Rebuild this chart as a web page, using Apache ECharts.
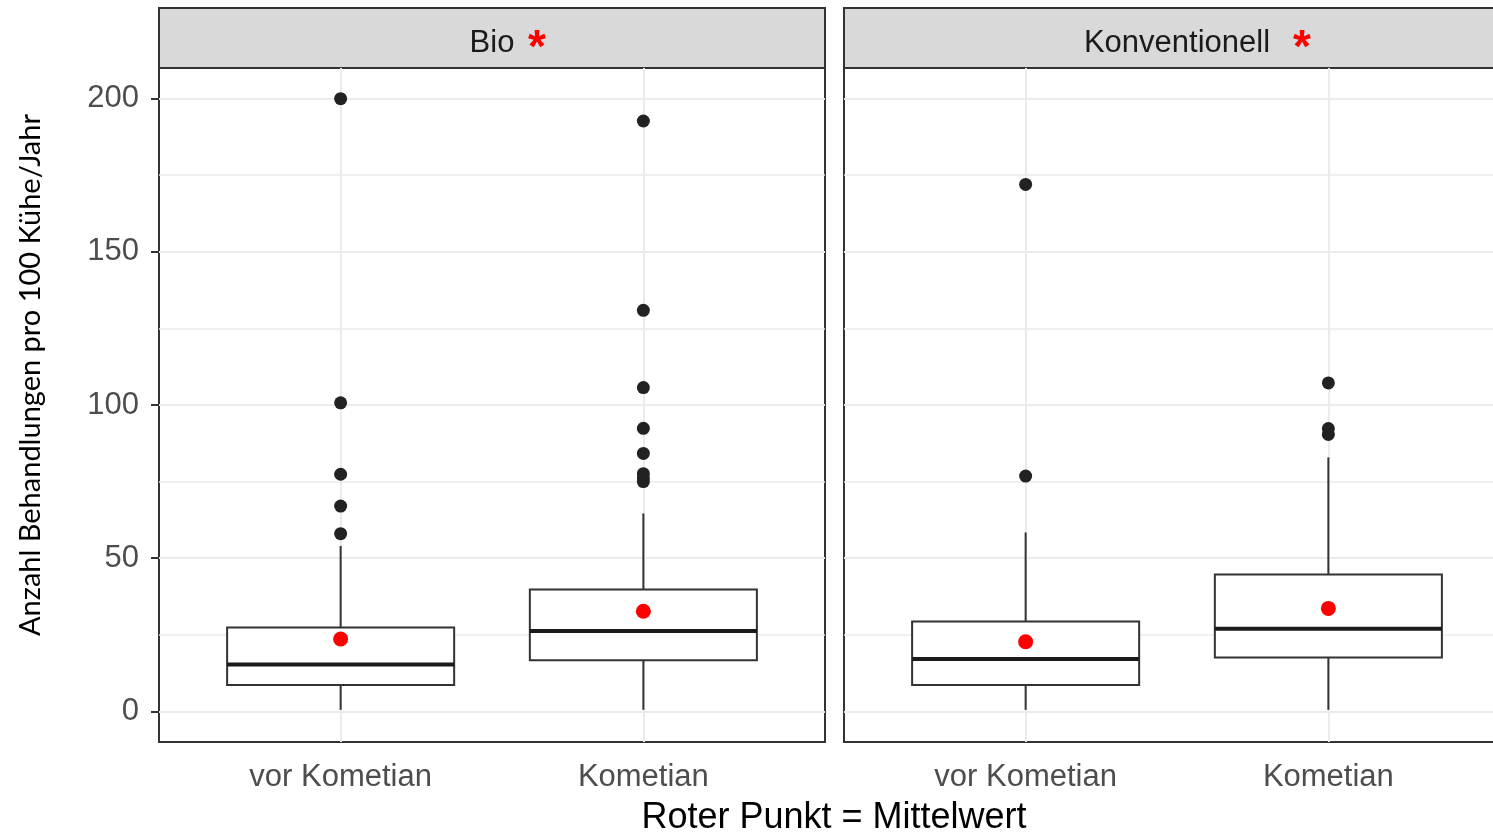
<html>
<head>
<meta charset="utf-8">
<title>Behandlungen</title>
<script src="https://cdn.jsdelivr.net/npm/echarts@6/dist/echarts.min.js"></script>
<style>
  html, body { margin: 0; padding: 0; background: #fff; overflow: hidden; }
</style>
</head>
<body>
<!-- etwas breiter als das fenster: rechtes panel ist im original abgeschnitten -->
<div id="main" style="width:1512px;height:834px;"></div>
<script>
// gruppen und panels
var groups = ['vor Kometian', 'Kometian'];
var panels = ['Bio', 'Konventionell'];

// boxplot werte: min, Q1, median, Q3, max (je gruppe)
var bioBox = [[0.5, 8.6, 15.3, 27.4, 54.0], [0.5, 16.7, 26.2, 39.8, 64.6]];
var konvBox = [[0.5, 8.6, 17.1, 29.3, 58.4], [0.5, 17.6, 27.0, 44.7, 82.9]];

// mittelwerte (roter punkt)
var bioMean = [23.6, 32.7];
var konvMean = [22.7, 33.6];

// ausreisser
var bioOutVor = [200, 100.7, 77.4, 67.0, 58.0];
var bioOutKom = [192.7, 130.9, 105.7, 92.4, 84.2, 77.6, 76.2, 75.0];
var konvOutVor = [172.0, 76.8];
var konvOutKom = [107.2, 92.3, 90.4];

// achsen
var yTicks = [0, 50, 100, 150, 200];
var yMinor = [25, 75, 125, 175];

var font = '"Liberation Sans", Arial, sans-serif';

function boxRows(box) {
  return box.map(function (b, i) { return [i + 1].concat(b); });
}
function pts(vals, x) {
  return vals.map(function (v) { return [x, v]; });
}
function meanPts(vals) {
  return vals.map(function (v, i) { return [i + 1, v]; });
}

function renderBox(params, api) {
  var x = api.value(0);
  var lo = api.coord([x, api.value(1)]);
  var q1 = api.coord([x, api.value(2)]);
  var md = api.coord([x, api.value(3)]);
  var q3 = api.coord([x, api.value(4)]);
  var hi = api.coord([x, api.value(5)]);
  var hw = api.size([0.75, 0])[0] / 2;
  var ls = { stroke: '#333', lineWidth: 2 };
  return {
    type: 'group',
    children: [
      { type: 'line', shape: { x1: lo[0], y1: lo[1], x2: q1[0], y2: q1[1] }, style: ls },
      { type: 'line', shape: { x1: q3[0], y1: q3[1], x2: hi[0], y2: hi[1] }, style: ls },
      { type: 'rect', shape: { x: q3[0] - hw, y: q3[1], width: hw * 2, height: q1[1] - q3[1] },
        style: { fill: '#fff', stroke: '#333', lineWidth: 2 } },
      { type: 'line', shape: { x1: md[0] - hw, y1: md[1], x2: md[0] + hw, y2: md[1] },
        style: { stroke: '#1a1a1a', lineWidth: 4 } }
    ]
  };
}

function gridLines(idx) {
  var data = [];
  yTicks.forEach(function (v) { data.push({ yAxis: v, lineStyle: { width: 2 } }); });
  yMinor.forEach(function (v) { data.push({ yAxis: v, lineStyle: { width: 1.5 } }); });
  [1, 2].forEach(function (v) { data.push({ xAxis: v, lineStyle: { width: 2 } }); });
  return {
    type: 'line', xAxisIndex: idx, yAxisIndex: idx, data: [], z: 1, silent: true,
    markLine: {
      z: 1, silent: true, symbol: 'none', label: { show: false },
      lineStyle: { color: '#ebebeb', type: 'solid' },
      animation: false,
      data: data
    }
  };
}

var myChart = echarts.init(document.getElementById('main'), null, { renderer: 'canvas' });

var xAxisBase = function (idx) {
  return {
    type: 'value', gridIndex: idx, min: 0.4, max: 2.6,
    axisLine: { show: false },
    splitLine: { show: false },
    axisTick: { show: true, customValues: [1, 2], length: 9, lineStyle: { color: '#333', width: 2 } },
    axisLabel: {
      show: true, customValues: [1, 2], margin: 20,
      color: '#4d4d4d', fontSize: 31, fontFamily: font,
      formatter: function (v) { return groups[Math.round(v) - 1]; }
    }
  };
};
var yAxisBase = function (idx, labels) {
  return {
    type: 'value', gridIndex: idx, min: -10, max: 210,
    axisLine: { show: false },
    splitLine: { show: false },
    axisTick: { show: labels, customValues: yTicks, length: 8, lineStyle: { color: '#333', width: 2 } },
    axisLabel: {
      show: labels, customValues: yTicks, margin: 20, padding: [6, 0, 0, 0],
      color: '#4d4d4d', fontSize: 31, fontFamily: font
    }
  };
};

var option = {
  animation: false,
  backgroundColor: '#fff',
  grid: [
    { left: 159, top: 68, width: 666, height: 674, show: true, borderColor: '#333', borderWidth: 2, backgroundColor: '#fff' },
    { left: 844, top: 68, width: 666, height: 674, show: true, borderColor: '#333', borderWidth: 2, backgroundColor: '#fff' }
  ],
  xAxis: [xAxisBase(0), xAxisBase(1)],
  yAxis: [yAxisBase(0, true), yAxisBase(1, false)],
  graphic: [
    { type: 'rect', shape: { x: 159, y: 8, width: 666, height: 60 }, style: { fill: '#d9d9d9', stroke: '#333', lineWidth: 2 } },
    { type: 'rect', shape: { x: 844, y: 8, width: 666, height: 60 }, style: { fill: '#d9d9d9', stroke: '#333', lineWidth: 2 } },
    { type: 'text', x: 492, y: 43, style: { text: panels[0], font: '31px ' + font, fill: '#1a1a1a', textAlign: 'center', textVerticalAlign: 'middle' } },
    { type: 'text', x: 537, y: 49, style: { text: '*', font: 'bold 46px ' + font, fill: '#ff0000', textAlign: 'center', textVerticalAlign: 'middle' } },
    { type: 'text', x: 1177, y: 43, style: { text: panels[1], font: '31px ' + font, fill: '#1a1a1a', textAlign: 'center', textVerticalAlign: 'middle' } },
    { type: 'text', x: 1302, y: 49, style: { text: '*', font: 'bold 46px ' + font, fill: '#ff0000', textAlign: 'center', textVerticalAlign: 'middle' } },
    { type: 'text', x: 31, y: 375, rotation: Math.PI / 2, style: { text: 'Anzahl Behandlungen pro 100 Kühe/Jahr', font: '29px Lato, sans-serif', fill: '#000', textAlign: 'center', textVerticalAlign: 'middle' } },
    { type: 'text', x: 834, y: 818, style: { text: 'Roter Punkt = Mittelwert', font: '36px ' + font, fill: '#000', textAlign: 'center', textVerticalAlign: 'middle' } }
  ],
  series: [
    gridLines(0),
    gridLines(1),
    { type: 'custom', xAxisIndex: 0, yAxisIndex: 0, z: 3, renderItem: renderBox,
      encode: { x: 0, y: [1, 2, 3, 4, 5] }, data: boxRows(bioBox) },
    { type: 'custom', xAxisIndex: 1, yAxisIndex: 1, z: 3, renderItem: renderBox,
      encode: { x: 0, y: [1, 2, 3, 4, 5] }, data: boxRows(konvBox) },
    { type: 'scatter', xAxisIndex: 0, yAxisIndex: 0, z: 4, symbolSize: 13, itemStyle: { color: '#222', opacity: 1 },
      data: pts(bioOutVor, 1).concat(pts(bioOutKom, 2)) },
    { type: 'scatter', xAxisIndex: 1, yAxisIndex: 1, z: 4, symbolSize: 13, itemStyle: { color: '#222', opacity: 1 },
      data: pts(konvOutVor, 1).concat(pts(konvOutKom, 2)) },
    { type: 'scatter', xAxisIndex: 0, yAxisIndex: 0, z: 5, symbolSize: 15, itemStyle: { color: '#ff0000', opacity: 1 },
      data: meanPts(bioMean) },
    { type: 'scatter', xAxisIndex: 1, yAxisIndex: 1, z: 5, symbolSize: 15, itemStyle: { color: '#ff0000', opacity: 1 },
      data: meanPts(konvMean) }
  ]
};

myChart.setOption(option);
</script>
</body>
</html>
